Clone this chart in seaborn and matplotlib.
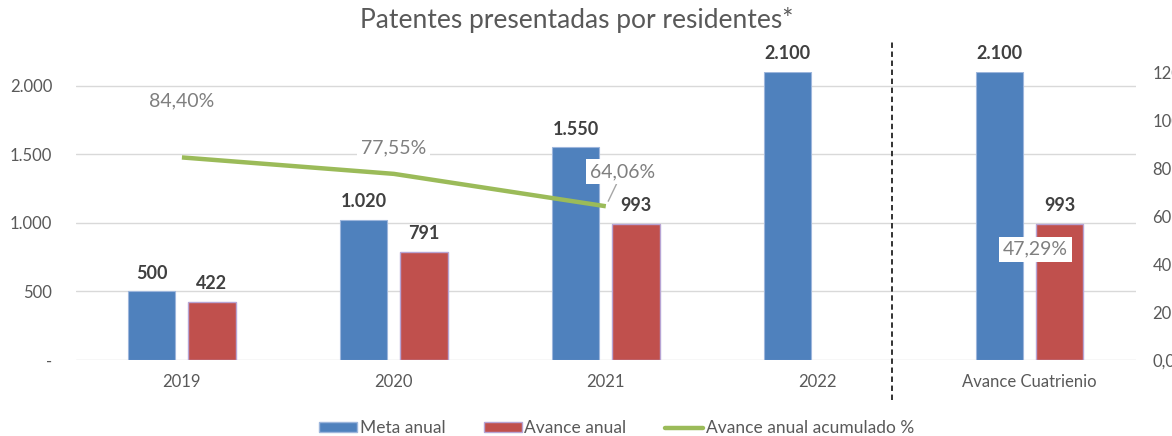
import pandas as pd
import matplotlib
matplotlib.use("Agg")
import matplotlib.pyplot as plt
import seaborn as sns
from matplotlib.patches import Patch
from matplotlib.lines import Line2D
from matplotlib.ticker import FuncFormatter

categorias = ["2019", "2020", "2021", "2022", "Avance Cuatrienio"]
meta_anual = [500, 1020, 1550, 2100, 2100]
avance_anual = [422, 791, 993, None, 993]
acumulado_pct = [0.8440, 0.7755, 0.6406, None, 0.4729]
left_ticks = [0, 500, 1000, 1500, 2000]
right_ticks = [0, 0.2, 0.4, 0.6, 0.8, 1.0, 1.2]

AZUL = "#4f81bd"
ROJO = "#c0504d"
VERDE = "#9bbb59"
GRIS = "#595959"

sns.set_theme(style="white")
plt.rcParams["font.family"] = ["Lato", "DejaVu Sans"]

rows = []
for cat, m, a in zip(categorias, meta_anual, avance_anual):
    rows.append({"cat": cat, "serie": "Meta anual", "valor": m})
    if a is not None:
        rows.append({"cat": cat, "serie": "Avance anual", "valor": a})
df = pd.DataFrame(rows)

fig = plt.figure(figsize=(11.72, 4.36), dpi=100)
ax = fig.add_axes([0.0648, 0.1743, 0.9042, 0.6606])

sns.barplot(data=df, x="cat", y="valor", hue="serie", order=categorias,
            hue_order=["Meta anual", "Avance anual"],
            palette=[AZUL, ROJO], width=0.568, gap=0.215,
            errorbar=None, legend=False, ax=ax, saturation=1)
for patch in ax.containers[0]:
    patch.set_edgecolor("#9db6dc")
    patch.set_linewidth(0.8)
for patch in ax.containers[1]:
    patch.set_edgecolor("#b7a4d4")
    patch.set_linewidth(1.0)

miles = lambda v: f"{v:,.0f}".replace(",", ".")
for c in ax.containers:
    ax.bar_label(c, fmt=miles, padding=7, fontsize=13, fontweight="bold",
                 color="#404040")

ax.set_xlim(-0.5, 4.5)
ax.set_ylim(0, 2100)
ax.set_yticks(left_ticks)
ax.yaxis.set_major_formatter(FuncFormatter(lambda v, p: "-" if v == 0 else miles(v)))
ax.set_xlabel("")
ax.set_ylabel("")
ax.grid(axis="y", color="#d9d9d9", lw=1)
ax.grid(axis="x", visible=False)
ax.set_axisbelow(True)
for s in ax.spines.values():
    s.set_visible(False)
ax.tick_params(axis="y", length=0, pad=17, labelsize=12, labelcolor=GRIS)
ax.tick_params(axis="x", length=0, pad=10, labelsize=12, labelcolor=GRIS)

# linea divisoria punteada
ax.plot([3.35, 3.35], [-0.139, 1.115], transform=ax.get_xaxis_transform(),
        clip_on=False, color="#222222", lw=1.3, ls=(0, (3, 2)))

ax2 = ax.twinx()
x_linea = [i for i, v in enumerate(acumulado_pct[:3])]
sns.lineplot(x=x_linea, y=acumulado_pct[:3], color=VERDE, lw=3.2, ax=ax2,
             solid_capstyle="butt")
ax2.set_ylim(0, 1.2)
ax2.set_yticks(right_ticks)
ax2.yaxis.set_major_formatter(FuncFormatter(lambda v, p: f"{v*100:.2f}%".replace(".", ",")))
ax2.tick_params(axis="y", length=0, pad=12, labelsize=12, labelcolor=GRIS)
for s in ax2.spines.values():
    s.set_visible(False)
ax2.grid(False)
ax2.set_xlim(-0.5, 4.5)

offsets = [(0, 41), (0, 19), (12, 25), None, (4, -2)]
caja = dict(boxstyle="square,pad=0.2", fc="white", ec="none")
for i, (v, off) in enumerate(zip(acumulado_pct, offsets)):
    if v is None:
        continue
    txt = f"{v*100:.2f}%".replace(".", ",")
    kw = {}
    if i == 2:
        kw["arrowprops"] = dict(arrowstyle="-", color="#a6a6a6", lw=1,
                                shrinkA=0, shrinkB=4)
    ax2.annotate(txt, (i, v), xytext=off, textcoords="offset points",
                 ha="center", va="center", fontsize=14, color="#7f7f7f",
                 bbox=caja, **kw)

fig.text(0.492, 0.955, "Patentes presentadas por residentes*", ha="center",
         va="center", fontsize=19, color=GRIS)

handles = [Patch(fc=AZUL, ec="#9db6dc"),
           Patch(fc=ROJO, ec="#b7a4d4"),
           Line2D([], [], color=VERDE, lw=3.2)]
fig.legend(handles, ["Meta anual", "Avance anual", "Avance anual acumulado %"],
           loc="center", bbox_to_anchor=(0.526, 0.018), ncol=3, frameon=False,
           fontsize=12.5, labelcolor=GRIS, handlelength=2.2, handleheight=0.5,
           handletextpad=0.15, columnspacing=2.2)

fig.savefig("out.png", dpi=100)
